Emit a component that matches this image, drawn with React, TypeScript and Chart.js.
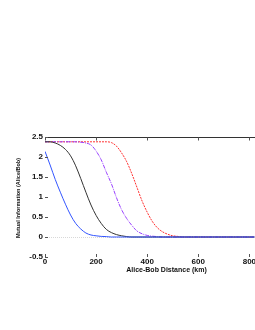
import React, { useEffect, useRef } from "react";
import { Chart, registerables } from "chart.js";

Chart.register(...registerables);

const distanceKm = [
  0, 20, 40, 60, 80, 100, 120, 140, 160, 180, 200, 220, 240, 260, 280, 300, 320, 340, 360, 380,
  400, 420, 440, 460, 480, 500, 520, 540, 560, 580, 600, 620, 640, 660, 680, 700, 720, 740, 760,
  780, 800, 820,
];

const blueSeries = [
  2.14, 1.8, 1.44, 1.12, 0.82, 0.55, 0.34, 0.2, 0.1, 0.05, 0.03, 0.015, 0.01, 0, 0, 0, 0, 0, 0, 0,
  0, 0, 0, 0, 0, 0, 0, 0, 0, 0, 0, 0, 0, 0, 0, 0, 0, 0, 0, 0, 0, 0,
];

const blackSeries = [
  2.38, 2.38, 2.35, 2.29, 2.19, 2.03, 1.78, 1.46, 1.12, 0.8, 0.54, 0.34, 0.19, 0.11, 0.06, 0.03,
  0.01, 0, 0, 0, 0, 0, 0, 0, 0, 0, 0, 0, 0, 0, 0, 0, 0, 0, 0, 0, 0, 0, 0, 0, 0, 0,
];

const purpleSeries = [
  2.38, 2.38, 2.38, 2.38, 2.38, 2.38, 2.38, 2.37, 2.35, 2.3, 2.15, 1.93, 1.62, 1.33, 0.98, 0.68,
  0.46, 0.29, 0.15, 0.08, 0.04, 0.02, 0.01, 0, 0, 0, 0, 0, 0, 0, 0, 0, 0, 0, 0, 0, 0, 0, 0, 0, 0, 0,
];

const redSeries = [
  2.38, 2.38, 2.38, 2.38, 2.38, 2.38, 2.38, 2.38, 2.38, 2.38, 2.38, 2.38, 2.38, 2.36, 2.27, 2.1,
  1.88, 1.58, 1.24, 0.9, 0.62, 0.39, 0.23, 0.13, 0.07, 0.03, 0.015, 0, 0, 0, 0, 0, 0, 0, 0, 0, 0,
  0, 0, 0, 0, 0,
];

const xTickValues = [0, 200, 400, 600, 800];
const yTickValues = [-0.5, 0, 0.5, 1, 1.5, 2, 2.5];

const xTitle = "Alice-Bob Distance (km)";
const yTitle = "Mutual Information (Alice/Bob)";

const framePlugin = {
  id: "framePlugin",
  beforeDatasetsDraw(chart: any) {
    const { ctx, chartArea, scales } = chart;
    const y = scales.y;
    ctx.save();
    ctx.strokeStyle = "#d8d8d8";
    ctx.lineWidth = 1;
    ctx.setLineDash([1, 1]);
    const y0 = Math.round(y.getPixelForValue(0)) + 0.5;
    ctx.beginPath();
    ctx.moveTo(chartArea.left, y0);
    ctx.lineTo(chartArea.right, y0);
    ctx.stroke();
    ctx.restore();
  },
  afterDatasetsDraw(chart: any) {
    const { ctx, chartArea, scales } = chart;
    const x = scales.x;
    const y = scales.y;
    ctx.save();
    ctx.strokeStyle = "#333333";
    ctx.lineWidth = 1;
    const top = Math.round(chartArea.top) + 0.5;
    ctx.beginPath();
    ctx.moveTo(chartArea.left, top);
    ctx.lineTo(chartArea.right, top);
    ctx.stroke();
    ctx.strokeStyle = "#555555";
    for (const v of xTickValues) {
      const px = Math.round(x.getPixelForValue(v)) + 0.5;
      ctx.beginPath();
      ctx.moveTo(px, top);
      ctx.lineTo(px, top + 3);
      ctx.stroke();
      ctx.beginPath();
      ctx.moveTo(px, chartArea.bottom);
      ctx.lineTo(px, chartArea.bottom - 3);
      ctx.stroke();
    }
    for (const v of yTickValues) {
      const py = Math.round(y.getPixelForValue(v)) + 0.5;
      ctx.beginPath();
      ctx.moveTo(chartArea.left, py);
      ctx.lineTo(chartArea.left + 3, py);
      ctx.stroke();
    }
    ctx.fillStyle = "#111111";
    ctx.font = "bold 7px 'Liberation Sans', Arial, sans-serif";
    ctx.textAlign = "center";
    ctx.textBaseline = "middle";
    ctx.fillText(xTitle, 166.5, 270);
    ctx.translate(18, 198);
    ctx.rotate(-Math.PI / 2);
    ctx.font = "bold 5.5px 'Liberation Sans', Arial, sans-serif";
    ctx.fillText(yTitle, 0, 0);
    ctx.restore();
  },
};

export default function App() {
  const canvasRef = useRef<HTMLCanvasElement | null>(null);

  useEffect(() => {
    document.body.style.margin = "0";
    const canvas = canvasRef.current;
    if (!canvas) return;
    const tickFont = { family: "'Liberation Sans', Arial, sans-serif", size: 8, weight: "bold" as const };
    const chart = new Chart(canvas, {
      type: "line",
      data: {
        labels: distanceKm,
        datasets: [
          {
            label: "blue",
            data: distanceKm.map((d, i) => ({ x: d, y: blueSeries[i] })),
            borderColor: "#3355ff",
            borderWidth: 1,
            pointRadius: 0,
            cubicInterpolationMode: "monotone",
          },
          {
            label: "black",
            data: distanceKm.map((d, i) => ({ x: d, y: blackSeries[i] })),
            borderColor: "#333333",
            borderWidth: 1,
            pointRadius: 0,
            cubicInterpolationMode: "monotone",
          },
          {
            label: "purple",
            data: distanceKm.map((d, i) => ({ x: d, y: purpleSeries[i] })),
            borderColor: "#9940ff",
            borderWidth: 1,
            borderDash: [4, 1, 1, 1],
            pointRadius: 0,
            cubicInterpolationMode: "monotone",
          },
          {
            label: "red",
            data: distanceKm.map((d, i) => ({ x: d, y: redSeries[i] })),
            borderColor: "#ff3030",
            borderWidth: 1,
            borderDash: [2, 1],
            pointRadius: 0,
            cubicInterpolationMode: "monotone",
          },
        ],
      },
      options: {
        responsive: false,
        animation: false,
        layout: { padding: { top: 137, left: 0, right: 0, bottom: 0 } },
        plugins: { legend: { display: false }, tooltip: { enabled: false } },
        scales: {
          x: {
            type: "linear",
            min: 0,
            max: 822,
            grid: { display: false, drawTicks: false, tickLength: 0 },
            border: { display: false },
            ticks: {
              font: tickFont,
              color: "#111111",
              padding: 0,
              maxRotation: 0,
              callback: (v: any) => String(v),
            },
            afterBuildTicks: (scale: any) => {
              scale.ticks = xTickValues.map((v) => ({ value: v }));
            },
            afterFit: (scale: any) => {
              scale.height = 73;
              scale.paddingLeft = 0;
              scale.paddingRight = 0;
            },
          },
          y: {
            type: "linear",
            min: -0.5,
            max: 2.5,
            grid: { display: false, drawTicks: false, tickLength: 0 },
            border: { display: false },
            ticks: {
              font: tickFont,
              color: "#111111",
              padding: 2,
              callback: (v: any) => String(v),
            },
            afterBuildTicks: (scale: any) => {
              scale.ticks = yTickValues.map((v) => ({ value: v }));
            },
            afterFit: (scale: any) => {
              scale.width = 45;
              scale.paddingTop = 0;
              scale.paddingBottom = 0;
            },
          },
        },
      },
      plugins: [framePlugin],
    });
    return () => chart.destroy();
  }, []);

  return (
    <div style={{ width: 255, height: 330, position: "relative" }}>
      <canvas ref={canvasRef} width={255} height={330} />
    </div>
  );
}
